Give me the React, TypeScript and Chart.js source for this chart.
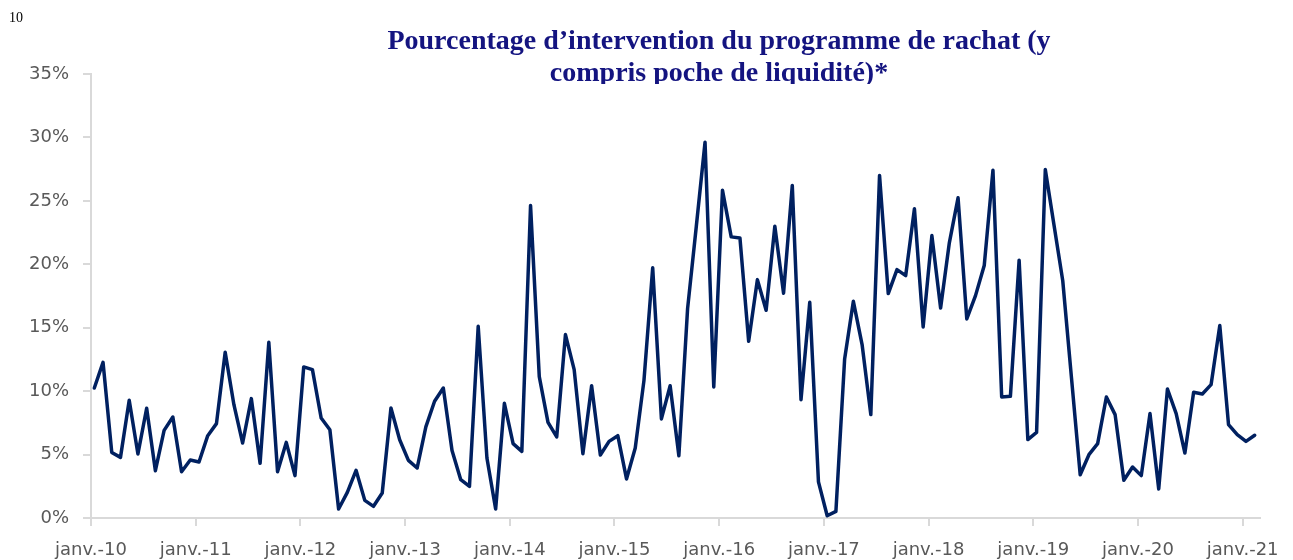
import React, { useEffect, useRef } from "react";
import { Chart, registerables } from "chart.js";

Chart.register(...registerables);

const titleLines = [
  "Pourcentage d\u2019intervention du programme de rachat (y",
  "compris poche de liquidit\u00e9)*",
];
const pageNumber = "10";

const tickLabels = [
  "janv.-10", "janv.-11", "janv.-12", "janv.-13", "janv.-14", "janv.-15",
  "janv.-16", "janv.-17", "janv.-18", "janv.-19", "janv.-20", "janv.-21",
];

// Monthly values (%) from Jan 2010 to Feb 2021
const values2010 = [10.25, 12.27, 5.17, 4.78, 9.28, 5.05, 8.65, 3.73, 6.91, 7.96, 3.65, 4.57];
const values2011 = [4.42, 6.49, 7.44, 13.06, 8.93, 5.91, 9.41, 4.31, 13.85, 3.65, 5.96, 3.34];
const values2012 = [11.91, 11.7, 7.88, 6.96, 0.71, 2.02, 3.76, 1.39, 0.92, 1.97, 8.67, 6.17];
const values2013 = [4.54, 3.94, 7.18, 9.2, 10.25, 5.33, 3.02, 2.49, 15.11, 4.73, 0.71, 9.04];
const values2014 = [5.86, 5.25, 24.63, 11.15, 7.54, 6.39, 14.46, 11.7, 5.07, 10.43, 4.97, 6.04];
const values2015 = [6.49, 3.08, 5.52, 10.85, 19.72, 7.81, 10.43, 4.91, 16.5, 23.0, 29.62, 10.33];
const values2016 = [25.84, 22.16, 22.08, 13.93, 18.79, 16.37, 23.0, 17.72, 26.21, 9.33, 17.0, 2.85];
const values2017 = [0.18, 0.52, 12.54, 17.08, 13.67, 8.15, 27.0, 17.69, 19.58, 19.11, 24.37, 15.06];
const values2018 = [22.26, 16.56, 21.69, 25.24, 15.69, 17.53, 19.9, 27.41, 9.54, 9.59, 20.32, 6.18];
const values2019 = [6.75, 27.47, 23.07, 18.7, 11.05, 3.41, 4.99, 5.86, 9.54, 8.15, 2.97, 4.02];
const values2020 = [3.34, 8.23, 2.29, 10.17, 8.23, 5.12, 9.91, 9.78, 10.51, 15.17, 7.36, 6.57];
const values2021 = [6.04, 6.52];

const values = [
  ...values2010, ...values2011, ...values2012, ...values2013, ...values2014, ...values2015,
  ...values2016, ...values2017, ...values2018, ...values2019, ...values2020, ...values2021,
];

const LINE_COLOR = "#002060";
const AXIS_COLOR = "#D9D9D9";
const LABEL_COLOR = "#595959";
const TITLE_COLOR = "#141480";
const MONTH_SHIFT = 0.38;

export default function App() {
  const canvasRef = useRef<HTMLCanvasElement | null>(null);

  useEffect(() => {
    const canvas = canvasRef.current;
    if (!canvas) return;
    const chart = new Chart(canvas, {
      type: "line",
      data: {
        datasets: [
          {
            data: values.map((v, i) => ({ x: i + MONTH_SHIFT, y: v })),
            borderColor: LINE_COLOR,
            borderWidth: 3.5,
            pointRadius: 0,
            tension: 0,
            borderJoinStyle: "round",
            borderCapStyle: "round",
            fill: false,
          },
        ],
      },
      options: {
        animation: false,
        responsive: false,
        devicePixelRatio: 1,
        layout: { padding: { top: 74, right: 29, left: 0, bottom: 0 } },
        plugins: {
          legend: { display: false },
          tooltip: { enabled: false },
          title: { display: false },
        },
        scales: {
          x: {
            type: "linear",
            min: 0,
            max: 134,
            afterBuildTicks: (axis: any) => {
              axis.ticks = tickLabels.map((_, k) => ({ value: 12 * k }));
            },
            afterFit: (axis: any) => {
              axis.height = 42;
            },
            ticks: {
              autoSkip: false,
              maxRotation: 0,
              minRotation: 0,
              padding: 14,
              color: LABEL_COLOR,
              font: { family: "DejaVu Sans", size: 18 },
              callback: (_v: any, idx: number) => tickLabels[idx],
            },
            grid: {
              drawOnChartArea: false,
              drawTicks: true,
              tickLength: 8,
              color: AXIS_COLOR,
              lineWidth: 2,
            },
            border: { display: true, color: AXIS_COLOR, width: 2 },
          },
          y: {
            min: 0,
            max: 35,
            afterFit: (axis: any) => {
              axis.width = 91;
            },
            ticks: {
              stepSize: 5,
              padding: 14,
              color: LABEL_COLOR,
              font: { family: "DejaVu Sans", size: 18 },
              callback: (v: any) => `${v}%`,
            },
            grid: {
              drawOnChartArea: false,
              drawTicks: true,
              tickLength: 8,
              color: AXIS_COLOR,
              lineWidth: 2,
            },
            border: { display: true, color: AXIS_COLOR, width: 2 },
          },
        },
      },
    });
    return () => chart.destroy();
  }, []);

  return (
    <div
      style={{
        position: "fixed",
        left: 0,
        top: 0,
        width: 1293,
        height: 560,
        background: "#ffffff",
        overflow: "hidden",
      }}
    >
      <canvas ref={canvasRef} width={1293} height={560} style={{ position: "absolute", left: 0, top: 0 }} />
      <div
        style={{
          position: "absolute",
          left: 9,
          top: 10,
          fontFamily: "'Liberation Serif', serif",
          fontSize: 14,
          lineHeight: "16px",
          color: "#000000",
        }}
      >
        {pageNumber}
      </div>
      <div
        style={{
          position: "absolute",
          left: 719,
          top: 24,
          height: 60,
          overflow: "hidden",
          transform: "translateX(-50%)",
          whiteSpace: "nowrap",
          textAlign: "center",
          fontFamily: "'Liberation Serif', serif",
          fontWeight: "bold",
          fontSize: 28,
          lineHeight: "32px",
          color: TITLE_COLOR,
        }}
      >
        <div>{titleLines[0]}</div>
        <div>{titleLines[1]}</div>
      </div>
    </div>
  );
}
